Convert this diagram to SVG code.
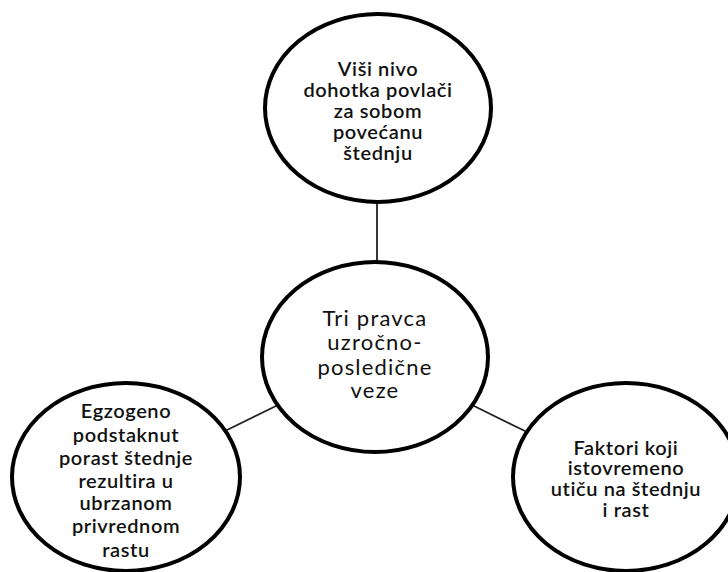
<svg xmlns="http://www.w3.org/2000/svg" width="728" height="572" viewBox="0 0 728 572">
<style>
.node ellipse{fill:#fff;stroke:#000;stroke-width:4}
.node text{font-family:Lato,"Open Sans","Liberation Sans",sans-serif;font-size:20px;fill:#111;text-anchor:middle;letter-spacing:0.6px;font-weight:600}
#center text{font-size:22px;font-weight:400;letter-spacing:1.2px}
.conn line{stroke:#222;stroke-width:1.8}
</style>
<rect width="728" height="572" fill="#fff"/>
<g class="conn" id="connectors">
<line x1="377" y1="202" x2="377" y2="264"/>
<line x1="223" y1="432" x2="278" y2="405"/>
<line x1="472" y1="405" x2="527" y2="432"/>
</g>
<g class="node" id="top">
<ellipse cx="378" cy="108" rx="113" ry="94"/>
<text x="378" y="76">Viši nivo</text>
<text x="378" y="97">dohotka povlači</text>
<text x="378" y="118">za sobom</text>
<text x="378" y="139">povećanu</text>
<text x="378" y="160">štednju</text>
</g>
<g class="node" id="center">
<ellipse cx="375" cy="357" rx="113" ry="95"/>
<text x="375" y="326">Tri pravca</text>
<text x="375" y="350">uzročno-</text>
<text x="375" y="375">posledične</text>
<text x="375" y="398">veze</text>
</g>
<g class="node" id="left">
<ellipse cx="126" cy="477" rx="114" ry="94"/>
<text x="126" y="418">Egzogeno</text>
<text x="126" y="442">podstaknut</text>
<text x="126" y="465">porast štednje</text>
<text x="126" y="488">rezultira u</text>
<text x="126" y="510">ubrzanom</text>
<text x="126" y="533">privrednom</text>
<text x="126" y="557">rastu</text>
</g>
<g class="node" id="right">
<ellipse cx="626" cy="477" rx="113" ry="94"/>
<text x="626" y="455">Faktori koji</text>
<text x="626" y="475">istovremeno</text>
<text x="626" y="496">utiču na štednju</text>
<text x="626" y="517">i rast</text>
</g>
</svg>
